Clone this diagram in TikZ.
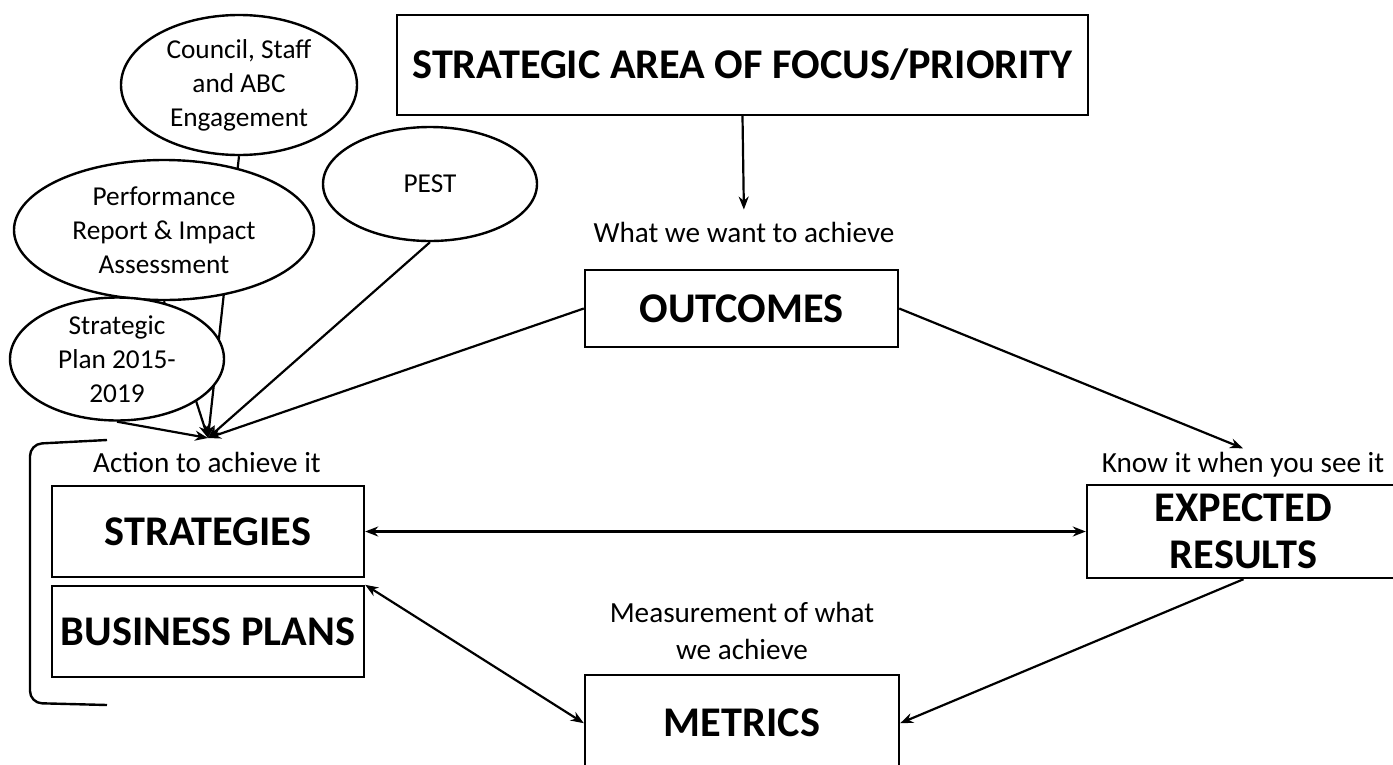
\documentclass[tikz,border=0pt]{standalone}
\usepackage{fontspec}
\setmainfont{Carlito}
\usetikzlibrary{shapes.geometric,arrows.meta,backgrounds}
\tikzset{
  bigbox/.style={draw, line width=2.4pt, inner sep=0pt, align=center,
    font=\fontsize{42.3}{47}\selectfont\bfseries},
  bubble/.style={draw, ellipse, line width=2.4pt, fill=white, inner sep=0pt,
    align=center, font=\fontsize{27.3}{34}\selectfont},
  tag/.style={inner sep=4pt, align=center, font=\fontsize{29.2}{37}\selectfont},
  link/.style={line width=2.2pt, -{Stealth[length=13pt,width=10pt]}},
  twolink/.style={line width=2.2pt, {Stealth[length=13pt,width=10pt]}-{Stealth[length=13pt,width=10pt]}}
}
\begin{document}
\begin{tikzpicture}[x=1pt,y=-1pt]
  \useasboundingbox (0,0) rectangle (1393,764);

  % Boxes
  \node[bigbox, minimum width=691, minimum height=100] (focus) at (742.5,65) {STRATEGIC AREA OF FOCUS/PRIORITY};%
  \node[bigbox, minimum width=313, minimum height=77] (outcomes) at (741.5,308.5) {OUTCOMES};%
  \node[bigbox, minimum width=312, minimum height=91] (strategies) at (208,531.5) {STRATEGIES};%
  \node[bigbox, minimum width=312, minimum height=91] (business) at (208,631.5) {BUSINESS PLANS};%
  \node[bigbox, minimum width=313, minimum height=93] (expected) at (1243.5,531.5) {EXPECTED\\RESULTS};%
  \node[bigbox, minimum width=314, minimum height=96, anchor=north] (metrics) at (742,674) {METRICS};%

  % Labels
  \node[tag] (want) at (744,232) {What we want to achieve};%
  \node[tag] (action) at (207,462) {Action to achieve it};%
  \node[tag] (know) at (1243,465) {Know it when you see it};%
  \node[tag] (measure) at (742,631) {Measurement of what\\we achieve};%

  % Inputs
  \node[bubble, minimum width=236, minimum height=140] (council) at (239,85) {Council, Staff\\and ABC\\Engagement};%
  \node[bubble, minimum width=300, minimum height=140] (report) at (164,230) {Performance\\Report \& Impact\\Assessment};%
  \node[bubble, minimum width=214, minimum height=114] (pest) at (430,184) {PEST};%
  \node[bubble, minimum width=214, minimum height=114] (plan) at (117,359) {Strategic\\Plan 2015-\\2019};%
  \coordinate (hub) at (208,438);

  % Drawing lines into the hub
  \begin{scope}[on background layer]
    \draw[link] (council.south) -- (hub);%
    \draw[link] (report.south) -- (hub);%
    \draw[link] (plan.south) -- (hub);%
    \draw[link] (pest.south) -- (hub);%
    \draw[link] (outcomes.west) -- (hub);%
  \end{scope}

  % Drawing the cycle
  \draw[link, shorten >=8pt] (focus.south) -- (want.north);%
  \draw[link] (outcomes.east) -- (know.north);%
  \draw[twolink] (strategies.east) -- (expected.west);%
  \draw[twolink] (business.north east) -- (metrics.west);%
  \draw[link] (expected.south) -- (metrics.east);%

  % Bracket
  \draw[line width=2.4pt, rounded corners=12pt] (107,440) -- (30,444) -- (30,703) -- (107,705);%
\end{tikzpicture}
\end{document}
